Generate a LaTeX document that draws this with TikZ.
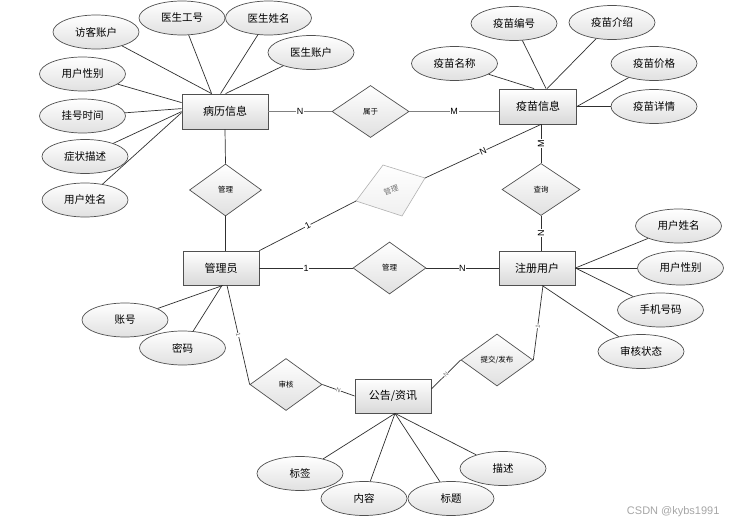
\documentclass[tikz,border=0pt]{standalone}
\usepackage{fontspec}
\setmainfont{Liberation Sans}
\newfontfamily\cjk{Noto Sans CJK SC}
\usetikzlibrary{shapes.geometric}
\definecolor{bord}{HTML}{505050}
\definecolor{lin}{HTML}{303030}
\tikzset{
 ent/.style={rectangle, draw=bord, line width=0.8pt, top color=white, bottom color=black!15, minimum width=76pt, minimum height=34pt, inner sep=0pt, font=\cjk\fontsize{11}{13}\selectfont},
 attr/.style={ellipse, draw=bord, line width=0.7pt, top color=white, bottom color=black!12, minimum width=86pt, minimum height=34pt, inner sep=0pt, font=\cjk\fontsize{10.5}{12}\selectfont},
 rel/.style={diamond, draw=bord, line width=0.7pt, top color=white, bottom color=black!12, minimum width=72pt, minimum height=52pt, inner sep=0pt, font=\cjk\fontsize{7.5}{9}\selectfont},
 conn/.style={draw=lin, line width=0.7pt},
 boldconn/.style={draw=black!50, line width=1.5pt},
 lab/.style={fill=white, inner sep=0.6pt, font=\fontsize{9}{10}\selectfont},
 tlab/.style={fill=white, inner sep=0.3pt, font=\fontsize{6}{7}\selectfont, text=black!60},
}
\begin{document}
\begin{tikzpicture}[x=1pt,y=-1pt]
\fill[white] (0,0) rectangle (741,524);
\useasboundingbox (0,0) rectangle (741,524);

% entities
\node[ent, minimum width=86pt, minimum height=35pt] (bl) at (225,111.5) {病历信息};
\node[ent, minimum width=77pt, minimum height=35pt] (vm) at (538,106.5) {疫苗信息};
\node[ent] (gly) at (221,268) {管理员};
\node[ent] (zc) at (537,268) {注册用户};
\node[ent] (gg) at (393,396) {公告/资讯};

% relationships
\node[rel, minimum width=77pt] (sy) at (370.5,111.5) {属于};
\node[rel] (gl1) at (225.5,190) {管理};
\node[rel, minimum width=78pt] (cx) at (541,189.5) {查询};
\node[rel, minimum width=73pt] (gl2) at (389.5,268) {管理};
\node[rel] (sh) at (286,384.5) {审核};
\node[rel] (tj) at (497,360) {提交/发布};

% gray skewed diamond
\coordinate (gt) at (383,165);
\coordinate (gr) at (425,178);
\coordinate (gb) at (402,216);
\coordinate (gle) at (356,201);
\path[draw=black!30, line width=0.6pt, top color=white, bottom color=black!6] (gt) -- (gr) -- (gb) -- (gle) -- cycle;
\node[rotate=18, text=black!55, font=\cjk\fontsize{7.5}{9}\selectfont] (gl3) at (391,190) {管理};

% attributes of 病历信息
\node[attr] (a1) at (96,32) {访客账户};
\node[attr] (a2) at (182,18) {医生工号};
\node[attr] (a3) at (268.5,18) {医生姓名};
\node[attr] (a4) at (311,52.5) {医生账户};
\node[attr] (a5) at (82.5,74) {用户性别};
\node[attr] (a6) at (82.5,116) {挂号时间};
\node[attr] (a7) at (85,156.5) {症状描述};
\node[attr] (a8) at (85,200) {用户姓名};

% attributes of 疫苗信息
\node[attr] (b1) at (514,23.5) {疫苗编号};
\node[attr] (b2) at (612,22.5) {疫苗介绍};
\node[attr] (b3) at (454.5,63.5) {疫苗名称};
\node[attr] (b4) at (654,63.5) {疫苗价格};
\node[attr] (b5) at (654,106.5) {疫苗详情};

% attributes of 注册用户
\node[attr] (c1) at (678.5,226) {用户姓名};
\node[attr] (c2) at (680.5,268) {用户性别};
\node[attr] (c3) at (660.5,310) {手机号码};
\node[attr] (c4) at (641,351.5) {审核状态};

% attributes of 管理员
\node[attr] (d1) at (125,320) {账号};
\node[attr] (d2) at (182.5,348) {密码};

% attributes of 公告/资讯
\node[attr] (e1) at (300,473.5) {标签};
\node[attr] (e2) at (364,498.5) {内容};
\node[attr] (e3) at (451,498.5) {标题};
\node[attr] (e4) at (503,468.5) {描述};

% attribute lines
\draw[conn] (a1) -- ([xshift=30pt]bl.north west);
\draw[conn] (a2) -- ([xshift=30pt]bl.north west);
\draw[conn] (a3) -- ([xshift=39pt]bl.north west);
\draw[conn] (a4) -- ([xshift=44pt]bl.north west);
\draw[conn] (a5) -- ([yshift=-9pt]bl.north west);
\draw[conn] (a6) -- ([yshift=-15pt]bl.north west);
\draw[conn] (a7) -- ([yshift=-18pt]bl.north west);
\draw[conn] (a8) -- ([yshift=-19pt]bl.north west);

\draw[conn] (b3) -- ([xshift=35pt]vm.north west);
\draw[conn] (b1) -- ([xshift=47pt]vm.north west);
\draw[conn] (b2) -- ([xshift=48pt]vm.north west);
\draw[conn] (b4) -- (vm.east);
\draw[conn] (b5) -- (vm.east);

\draw[conn] (zc.east) -- (c1);
\draw[conn] (zc.east) -- (c2);
\draw[conn] (zc.east) -- (c3);
\draw[conn] ([xshift=5pt]zc.south) -- (c4);

\draw[conn] ([xshift=2pt]gly.south) -- (d1);
\draw[conn] ([xshift=1pt]gly.south) -- (d2);

\draw[conn] ([xshift=2pt]gg.south) -- (e1);
\draw[conn] ([xshift=2pt]gg.south) -- (e2);
\draw[conn] ([xshift=2pt]gg.south) -- (e3);
\draw[conn] ([xshift=2pt]gg.south) -- (e4);

% relationship lines
\draw[boldconn] (bl.east) -- node[lab]{N} (sy.west);
\draw[boldconn] (sy.east) -- node[lab]{M} (sy.east -| vm.west);
\draw[conn] (bl.south) -- (gl1.north);
\draw[conn] (gl1.south) -- (gl1.south |- gly.north);
\draw[conn] (gly.north east) -- node[lab, sloped]{1} (gle);
\draw[conn] (gr) -- node[lab, sloped]{N} ([xshift=3pt]vm.south);
\draw[conn] (cx.north) -- node[lab, rotate=90]{M} (cx.north |- vm.south);
\draw[conn] (cx.south) -- node[lab, rotate=90]{N} (cx.south |- zc.north);
\draw[conn] (gly.east) -- node[lab]{1} (gl2.west);
\draw[conn] (gl2.east) -- node[lab]{N} (zc.west);
\draw[conn] ([xshift=6pt]gly.south) -- node[tlab, sloped]{1} (sh.west);
\draw[conn] (sh.east) -- node[tlab, sloped]{N} (gg.west);
\draw[conn] ([xshift=6pt]zc.south) -- node[tlab, sloped, pos=0.55]{1} (tj.east);
\draw[conn] (tj.west) -- node[tlab, sloped]{N} ([yshift=7pt]gg.east);

% watermark
\node[text=black!35, font=\fontsize{11}{12}\selectfont, anchor=east] (wm) at (723,512) {CSDN @kybs1991};
\end{tikzpicture}
\end{document}
